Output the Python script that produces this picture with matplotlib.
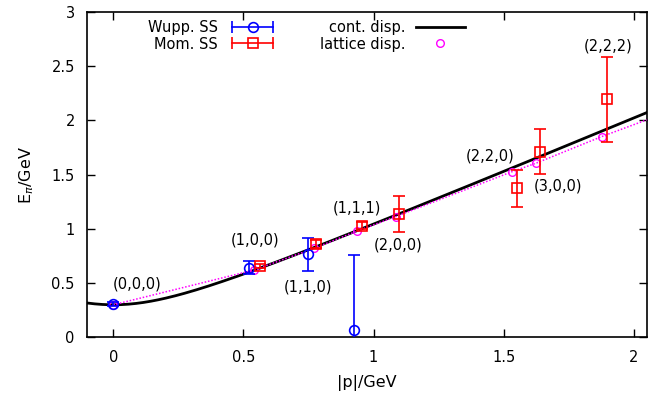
import numpy as np
import matplotlib
matplotlib.use('Agg')
import matplotlib.pyplot as plt
from matplotlib.lines import Line2D
from matplotlib.legend_handler import HandlerLine2D, HandlerTuple

# Wuppertal-smeared source
wupp_p = [0.0, 0.52, 0.748, 0.925]
wupp_E = [0.307, 0.64, 0.765, 0.07]
wupp_err = [0.015, 0.06, 0.15, 0.69]

# momentum-smeared source
mom_p = [0.563, 0.78, 0.956, 1.098, 1.55, 1.64, 1.896]
mom_E = [0.655, 0.86, 1.03, 1.137, 1.375, 1.712, 2.195]
mom_err = [0.02, 0.035, 0.035, 0.163, 0.17, 0.205, 0.39]

# lattice dispersion at the lattice momenta
lat_p = [0.0, 0.54, 0.771, 0.937, 1.085, 1.533, 1.624, 1.877]
lat_E = [0.30, 0.62, 0.82, 0.98, 1.113, 1.528, 1.605, 1.851]
lat_line_p = lat_p + [2.05]
lat_line_E = lat_E + [2.005]

# continuum dispersion
m_pi = 0.30

labels = ['(0,0,0)', '(1,0,0)', '(1,1,0)', '(1,1,1)', '(2,0,0)', '(2,2,0)', '(3,0,0)', '(2,2,2)']
label_x = [0.09, 0.545, 0.75, 0.935, 1.095, 1.447, 1.71, 1.90]
label_y = [0.49, 0.90, 0.46, 1.19, 0.85, 1.67, 1.395, 2.69]

plt.rcParams['font.family'] = 'DejaVu Sans'
fig = plt.figure(figsize=(6.63, 3.96), dpi=100)
ax = fig.add_axes([0.1317, 0.1482, 0.9754 - 0.1317, 0.9697 - 0.1482])

p = np.linspace(-0.1, 2.05, 300)
ax.plot(p, np.sqrt(m_pi**2 + p**2), color='black', lw=2.0, zorder=2)
ax.plot(lat_line_p, lat_line_E, color='magenta', lw=1.1, ls=(0, (1, 1.2)), zorder=3)
ax.plot(lat_p, lat_E, ls='none', marker='o', ms=5.5, mfc='none', mec='magenta', mew=1.0, zorder=4)

ax.errorbar(wupp_p, wupp_E, yerr=wupp_err, fmt='o', ms=7, mfc='none', mec='blue',
            ecolor='blue', color='blue', elinewidth=1.2, capsize=4, capthick=1.2, mew=1.2, zorder=5)
ax.errorbar(mom_p, mom_E, yerr=mom_err, fmt='s', ms=6.5, mfc='none', mec='red',
            ecolor='red', color='red', elinewidth=1.2, capsize=4, capthick=1.2, mew=1.2, zorder=5)

for t, lx, ly in zip(labels, label_x, label_y):
    ax.text(lx, ly, t, ha='center', va='center', fontsize=10.5)

ax.set_xlim(-0.1, 2.05)
ax.set_ylim(0, 3)
ax.set_xticks([0, 0.5, 1, 1.5, 2])
ax.set_xticklabels(['0', '0.5', '1', '1.5', '2'])
ax.set_yticks([0, 0.5, 1, 1.5, 2, 2.5, 3])
ax.set_yticklabels(['0', '0.5', '1', '1.5', '2', '2.5', '3'])
ax.tick_params(direction='in', top=True, right=True, length=6, width=1, labelsize=10.5, pad=9)
for s in ax.spines.values():
    s.set_linewidth(1.2)
ax.set_xlabel('|p|/GeV', fontsize=11.5, labelpad=7)
ax.set_ylabel(r'E$_\pi$/GeV', fontsize=11.5, labelpad=11)

# gnuplot-style key: text first, horizontal error bar sample
w_caps = Line2D([], [], color='blue', lw=1.2, marker='|', ms=9, mew=1.2)
w_mark = Line2D([], [], color='blue', ls='none', marker='o', ms=7, mfc='none', mew=1.2)
m_caps = Line2D([], [], color='red', lw=1.2, marker='|', ms=9, mew=1.2)
m_mark = Line2D([], [], color='red', ls='none', marker='s', ms=6.5, mfc='none', mew=1.2)
c_line = Line2D([], [], color='black', lw=2.0)
l_mark = Line2D([], [], color='magenta', ls='none', marker='o', ms=5.5, mfc='none')
hmap = {w_caps: HandlerLine2D(numpoints=2), m_caps: HandlerLine2D(numpoints=2),
        tuple: HandlerTuple(ndivide=1)}
ax.legend([(w_caps, w_mark), (m_caps, m_mark), c_line, l_mark],
          ['Wupp. SS', 'Mom. SS', 'cont. disp.', 'lattice disp.'],
          handler_map=hmap, ncol=2, markerfirst=False, frameon=False,
          loc='upper left', bbox_to_anchor=(0.108, 0.975), borderaxespad=0, borderpad=0,
          handlelength=3.4, handletextpad=0.7, columnspacing=2.9, labelspacing=0.1,
          fontsize=10.5)

fig.savefig('out.png', dpi=100)
